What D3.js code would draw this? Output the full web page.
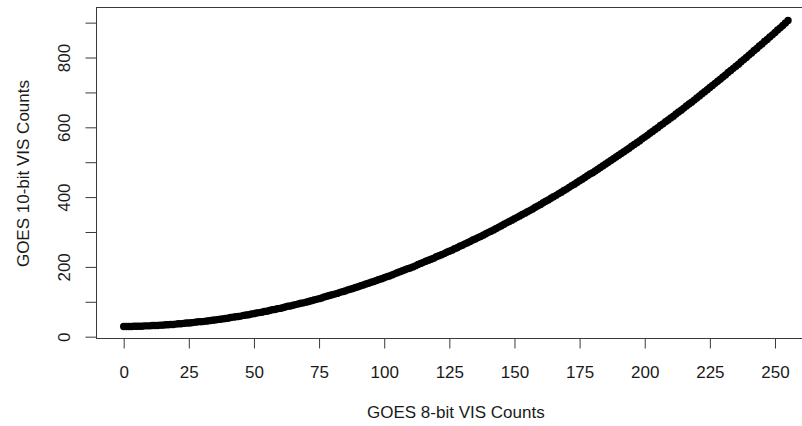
<!DOCTYPE html>
<html>
<head>
<meta charset="utf-8">
<script src="https://cdn.jsdelivr.net/npm/d3@7"></script>
<style>
  html, body { margin: 0; padding: 0; background: #ffffff; }
  svg { display: block; }
  text { font-family: "Liberation Sans", Arial, sans-serif; fill: #1a1a1a; }
</style>
</head>
<body>
<svg id="chart" width="802" height="426"></svg>
<script>
// ---- data ----
const counts8bit = [
  0,1,2,3,4,5,6,7,8,9,10,11,12,13,14,15,16,17,18,19,20,21,22,23,24,25,26,27,28,29,30,31,
  32,33,34,35,36,37,38,39,40,41,42,43,44,45,46,47,48,49,50,51,52,53,54,55,56,57,58,59,60,61,62,63,
  64,65,66,67,68,69,70,71,72,73,74,75,76,77,78,79,80,81,82,83,84,85,86,87,88,89,90,91,92,93,94,95,
  96,97,98,99,100,101,102,103,104,105,106,107,108,109,110,111,112,113,114,115,116,117,118,119,120,121,122,123,124,125,126,127,
  128,129,130,131,132,133,134,135,136,137,138,139,140,141,142,143,144,145,146,147,148,149,150,151,152,153,154,155,156,157,158,159,
  160,161,162,163,164,165,166,167,168,169,170,171,172,173,174,175,176,177,178,179,180,181,182,183,184,185,186,187,188,189,190,191,
  192,193,194,195,196,197,198,199,200,201,202,203,204,205,206,207,208,209,210,211,212,213,214,215,216,217,218,219,220,221,222,223,
  224,225,226,227,228,229,230,231,232,233,234,235,236,237,238,239,240,241,242,243,244,245,246,247,248,249,250,251,252,253,254,255
];
const counts10bit = [
  29,29,29,29,30,30,30,30,31,31,31,32,32,32,33,33,34,34,35,35,36,37,37,38,39,39,40,41,42,43,43,44,
  45,46,47,48,49,50,51,52,53,55,56,57,58,59,61,62,63,65,66,68,69,70,72,73,75,77,78,80,81,83,85,87,
  88,90,92,94,96,97,99,101,103,105,107,109,111,114,116,118,120,122,124,127,129,131,134,136,138,141,143,146,148,151,153,156,
  158,161,164,166,169,172,174,177,180,183,186,189,192,195,197,200,203,207,210,213,216,219,222,225,229,232,235,238,242,245,248,252,
  255,259,262,266,269,273,277,280,284,287,291,295,299,302,306,310,314,318,322,326,330,334,338,342,346,350,354,358,362,366,371,375,
  379,384,388,392,397,401,405,410,414,419,423,428,433,437,442,447,451,456,461,466,470,475,480,485,490,495,500,505,510,515,520,525,
  530,535,540,546,551,556,561,567,572,577,583,588,594,599,605,610,616,621,627,632,638,644,649,655,661,667,672,678,684,690,696,702,
  708,714,720,726,732,738,744,750,757,763,769,775,781,788,794,800,807,813,820,826,833,839,846,852,859,865,872,879,885,892,899,906
];
const xTicks = [0,25,50,75,100,125,150,175,200,225,250];
const yTicks = [0,100,200,300,400,500,600,700,800,900];
const yTickLabels = [0,200,400,600,800];
const xTitle = "GOES 8-bit VIS Counts";
const yTitle = "GOES 10-bit VIS Counts";

// ---- layout ----
const svg = d3.select("#chart");
const plotLeft = 97.1, plotRight = 814.6, plotTop = 8.3, plotBottom = 338.8;
const axisColor = "#3a3a3a";
const fontSize = 17;

// R-style 4% domain extension
const xMin = d3.min(counts8bit), xMax = d3.max(counts8bit);
const yMin = d3.min(counts10bit), yMax = d3.max(counts10bit);
const xPad = (xMax - xMin) * 0.04, yPad = (yMax - yMin) * 0.04;

const x = d3.scaleLinear().domain([xMin - xPad, xMax + xPad]).range([plotLeft, plotRight]);
const y = d3.scaleLinear().domain([yMin - yPad, yMax + yPad]).range([plotBottom, plotTop]);

// ---- points ----
const pts = counts8bit.map((v, i) => ({ x: v, y: counts10bit[i] }));
svg.append("g")
  .selectAll("circle")
  .data(pts)
  .join("circle")
  .attr("cx", d => x(d.x))
  .attr("cy", d => y(d.y))
  .attr("r", 3.7)
  .attr("fill", "#000");

// ---- box ----
svg.append("rect")
  .attr("x", Math.round(plotLeft) - 0.5)
  .attr("y", Math.round(plotTop) - 0.5)
  .attr("width", Math.round(plotRight) - Math.round(plotLeft))
  .attr("height", Math.round(plotBottom) - Math.round(plotTop))
  .attr("fill", "none")
  .attr("stroke", axisColor)
  .attr("stroke-width", 1);

// ---- x axis ----
const xAxis = d3.axisBottom(x).tickValues(xTicks).tickSize(10).tickPadding(17).tickFormat(d3.format("d"));
const gx = svg.append("g").attr("transform", `translate(0,${Math.round(plotBottom) - 0.5})`).call(xAxis);
gx.select(".domain").remove();
gx.selectAll(".tick line").attr("stroke", axisColor);
gx.selectAll(".tick text")
  .attr("font-size", fontSize)
  .attr("font-family", "Liberation Sans, Arial, sans-serif")
  .attr("fill", "#1a1a1a");

// ---- y axis ----
const yAxis = d3.axisLeft(y).tickValues(yTicks).tickSize(11)
  .tickFormat(d => yTickLabels.includes(d) ? String(d) : "");
const gy = svg.append("g").attr("transform", `translate(${Math.round(plotLeft) - 0.5},0)`).call(yAxis);
gy.select(".domain").remove();
gy.selectAll(".tick line").attr("stroke", axisColor);
gy.selectAll(".tick text")
  .attr("font-size", fontSize)
  .attr("font-family", "Liberation Sans, Arial, sans-serif")
  .attr("fill", "#1a1a1a")
  .attr("text-anchor", "middle")
  .attr("x", null)
  .attr("dy", null)
  .attr("transform", `translate(${64.5 - (Math.round(plotLeft) - 0.5)},0) rotate(-90)`)
  .attr("dy", "0.35em");

// ---- titles ----
svg.append("text")
  .attr("x", (plotLeft + plotRight) / 2)
  .attr("y", 412)
  .attr("dy", "0.35em")
  .attr("text-anchor", "middle")
  .attr("font-size", fontSize)
  .text(xTitle);

svg.append("text")
  .attr("transform", `translate(22.7,${(plotTop + plotBottom) / 2}) rotate(-90)`)
  .attr("dy", "0.35em")
  .attr("text-anchor", "middle")
  .attr("font-size", fontSize)
  .text(yTitle);
</script>
</body>
</html>
